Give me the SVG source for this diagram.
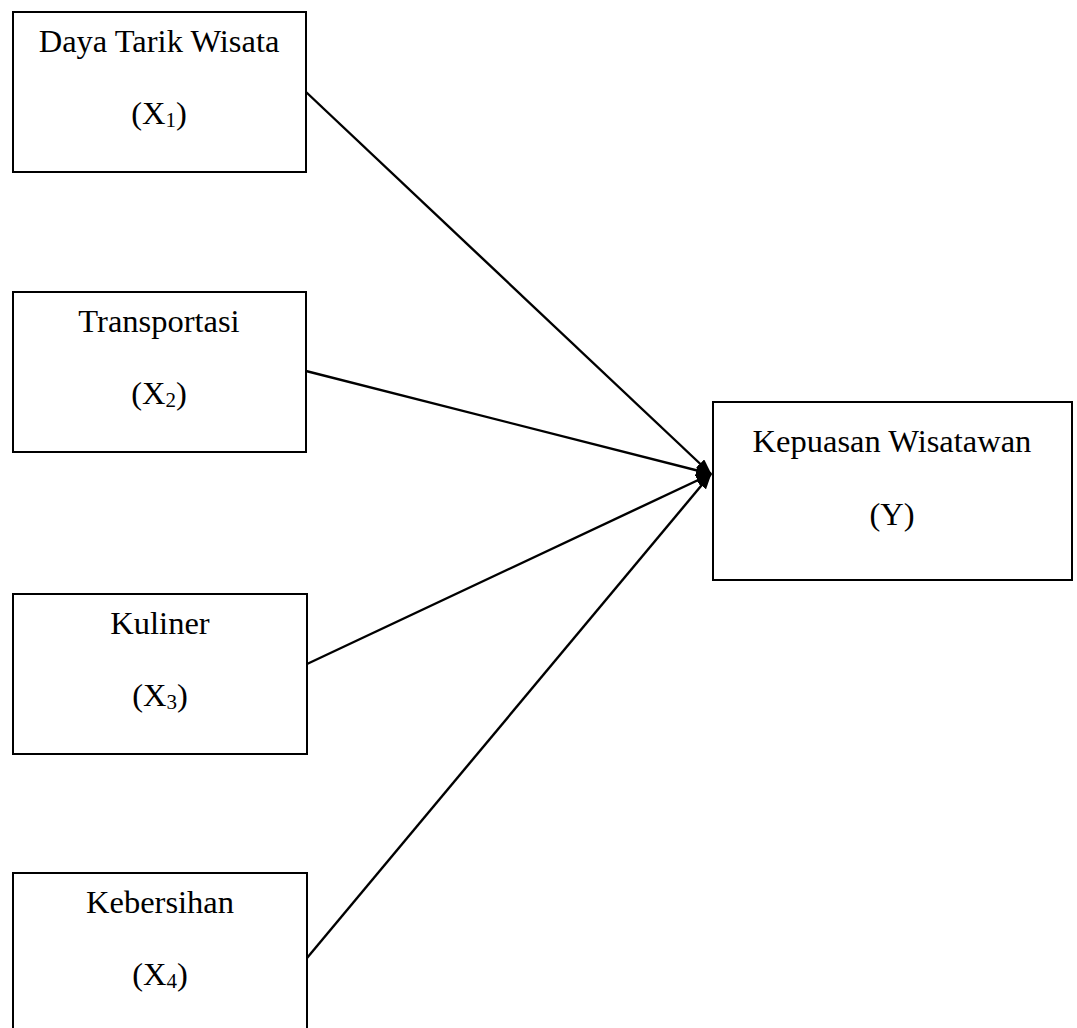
<svg xmlns="http://www.w3.org/2000/svg" width="1077" height="1028" viewBox="0 0 1077 1028">
  <style>
    .box { fill: #fff; stroke: #000; stroke-width: 2; }
    .lbl { font-family: "Liberation Serif", "Times New Roman", serif; font-size: 32.5px; fill: #000; text-anchor: middle; }
    .sub { font-size: 21px; }
    .conn { stroke: #000; stroke-width: 2.4; fill: none; marker-end: url(#arrow); }
  </style>
  <defs>
    <marker id="arrow" markerWidth="16" markerHeight="12" refX="15" refY="6" orient="auto" markerUnits="userSpaceOnUse">
      <path d="M0,0 L16,6 L0,12 Z" fill="#000"/>
    </marker>
  </defs>
  <rect width="1077" height="1028" fill="#fff"/>
  <g id="connectors">
    <line class="conn" x1="306" y1="92" x2="711" y2="474"/>
    <line class="conn" x1="306" y1="371" x2="711" y2="474"/>
    <line class="conn" x1="307" y1="664" x2="711" y2="474"/>
    <line class="conn" x1="307" y1="958" x2="711" y2="474"/>
  </g>
  <g id="x1">
    <rect class="box" x="13" y="12" width="293" height="160"/>
    <text class="lbl" x="159" y="52">Daya Tarik Wisata</text>
    <text class="lbl" x="159" y="124">(X<tspan class="sub" dy="3">1</tspan><tspan dy="-3">)</tspan></text>
  </g>
  <g id="x2">
    <rect class="box" x="13" y="292" width="293" height="160"/>
    <text class="lbl" x="159" y="332">Transportasi</text>
    <text class="lbl" x="159" y="404">(X<tspan class="sub" dy="3">2</tspan><tspan dy="-3">)</tspan></text>
  </g>
  <g id="x3">
    <rect class="box" x="13" y="594" width="294" height="160"/>
    <text class="lbl" x="160" y="634">Kuliner</text>
    <text class="lbl" x="160" y="706">(X<tspan class="sub" dy="3">3</tspan><tspan dy="-3">)</tspan></text>
  </g>
  <g id="x4">
    <rect class="box" x="13" y="873" width="294" height="170"/>
    <text class="lbl" x="160" y="913">Kebersihan</text>
    <text class="lbl" x="160" y="985">(X<tspan class="sub" dy="3">4</tspan><tspan dy="-3">)</tspan></text>
  </g>
  <g id="y">
    <rect class="box" x="713" y="402" width="359" height="178"/>
    <text class="lbl" x="892" y="452">Kepuasan Wisatawan</text>
    <text class="lbl" x="892" y="525">(Y)</text>
  </g>
</svg>
